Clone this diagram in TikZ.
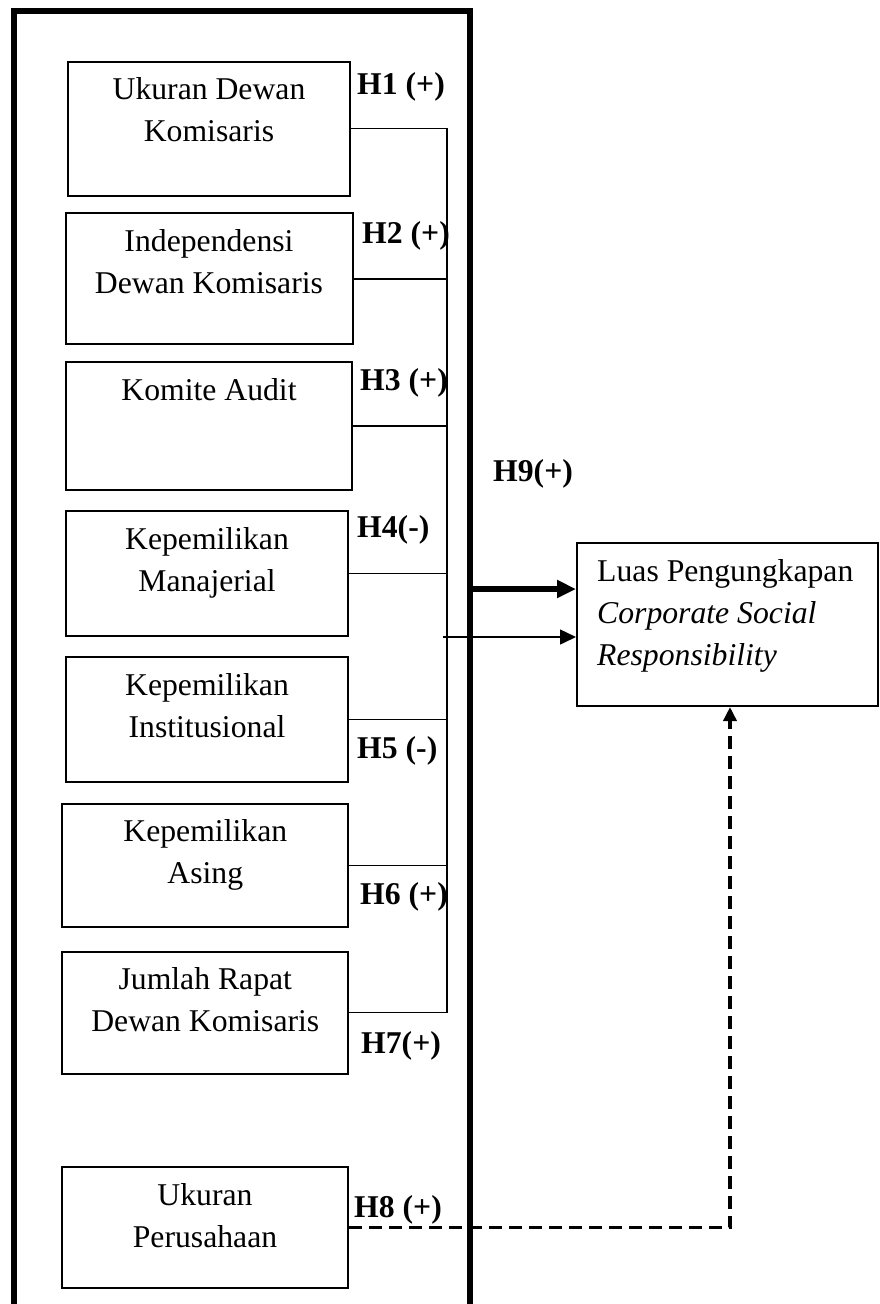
\documentclass[tikz,border=0pt]{standalone}
\usepackage{fontspec}
\setmainfont{Liberation Serif}
\usetikzlibrary{arrows.meta, positioning, calc}
\tikzset{
  box/.style={draw, line width=2pt, rectangle, inner sep=0pt},
  vartxt/.style={anchor=base, inner sep=0pt},
  deptxt/.style={anchor=base west, inner sep=0pt},
  hyp/.style={anchor=base west, inner sep=0pt, font=\fontsize{31.7}{42}\selectfont\bfseries},
  conn/.style={line width=1.5pt},
  frame/.style={line width=6pt},
  thinarr/.style={line width=1.5pt, -{Triangle[length=16pt,width=15pt]}},
  thickarr/.style={line width=5.5pt, -{Triangle[length=19pt,width=17pt]}},
  dasharr/.style={line width=3.5pt, dash pattern=on 13pt off 7pt, -{Triangle[length=14pt,width=13pt]}}
}
\def\boxlines#1{\parbox[t]{280pt}{\centering #1}}

\begin{document}
\begin{tikzpicture}[x=1pt, y=-1pt, font=\fontsize{31.7}{42}\selectfont]
  \useasboundingbox (0,0) rectangle (879,1304);
  \clip (0,0) rectangle (879,1304);

  % outer frame, open at the bottom
  \draw[frame] (14,1330) -- (14,11) -- (470,11) -- (470,1330);

  % independent variables
  \node[box, minimum width=282pt, minimum height=134pt] (b1) at (209,128.7) {};
  \node[box, minimum width=287pt, minimum height=131pt] (b2) at (209,278.8) {};
  \node[box, minimum width=286pt, minimum height=128pt] (b3) at (209,426) {};
  \node[box, minimum width=282pt, minimum height=125pt] (b4) at (207,573.5) {};
  \node[box, minimum width=282pt, minimum height=125pt] (b5) at (207,719.5) {};
  \node[box, minimum width=286pt, minimum height=123pt] (b6) at (205.3,865.3) {};
  \node[box, minimum width=286pt, minimum height=122pt] (b7) at (205.3,1012.5) {};
  \node[box, minimum width=286pt, minimum height=121pt] (b8) at (205,1227.5) {};
  % dependent variable
  \node[box, minimum width=301pt, minimum height=163pt] (csr) at (727.5,624.5) {};

  \node[vartxt] (t1) at ([yshift=-39pt]b1.north) {\boxlines{Ukuran Dewan\\Komisaris}};
  \node[vartxt] (t2) at ([yshift=-39pt]b2.north) {\boxlines{Independensi\\Dewan Komisaris}};
  \node[vartxt] (t3) at ([yshift=-39pt]b3.north) {\boxlines{Komite Audit}};
  \node[vartxt] (t4) at ([yshift=-39pt]b4.north) {\boxlines{Kepemilikan\\Manajerial}};
  \node[vartxt] (t5) at ([yshift=-39pt]b5.north) {\boxlines{Kepemilikan\\Institusional}};
  \node[vartxt] (t6) at ([yshift=-39pt]b6.north) {\boxlines{Kepemilikan\\Asing}};
  \node[vartxt] (t7) at ([yshift=-39pt]b7.north) {\boxlines{Jumlah Rapat\\Dewan Komisaris}};
  \node[vartxt] (t8) at ([yshift=-39pt]b8.north) {\boxlines{Ukuran\\Perusahaan}};
  \node[deptxt] (tcsr) at ([xshift=21pt,yshift=-39pt]csr.north west)
    {\parbox[t]{280pt}{\raggedright Luas Pengungkapan\\\textit{Corporate Social}\\\textit{Responsibility}}};

  % hypothesis labels
  \node[hyp] (h1) at (357,94) {H1 (+)};
  \node[hyp] (h2) at (362,243) {H2 (+)};
  \node[hyp] (h3) at (360,390) {H3 (+)};
  \node[hyp] (h4) at (357,537) {H4(-)};
  \node[hyp] (h5) at (357,758) {H5 (-)};
  \node[hyp] (h6) at (360,904) {H6 (+)};
  \node[hyp] (h7) at (361,1053) {H7(+)};
  \node[hyp] (h8) at (354,1217) {H8 (+)};
  \node[hyp] (h9) at (493,481) {H9(+)};

  % collecting line
  \coordinate (bus) at (447,0);
  \draw[conn] (b1.east) -- (b1.east -| bus) -- (b7.east -| bus) -- (b7.east);
  \foreach \i in {2,...,6}
    \draw[conn] (b\i.east) -- (b\i.east -| bus);

  % arrows into the dependent variable
  \coordinate (tin) at (443,637);
  \draw[thinarr] (tin) -- (tin -| csr.west);
  \coordinate (tkin) at (470,589);
  \draw[thickarr] (tkin) -- (tkin -| csr.west);

  % firm size
  \coordinate (dk) at (730,0);
  \draw[dasharr] (b8.east) -- (b8.east -| dk) -- (dk |- csr.south);
\end{tikzpicture}
\end{document}
